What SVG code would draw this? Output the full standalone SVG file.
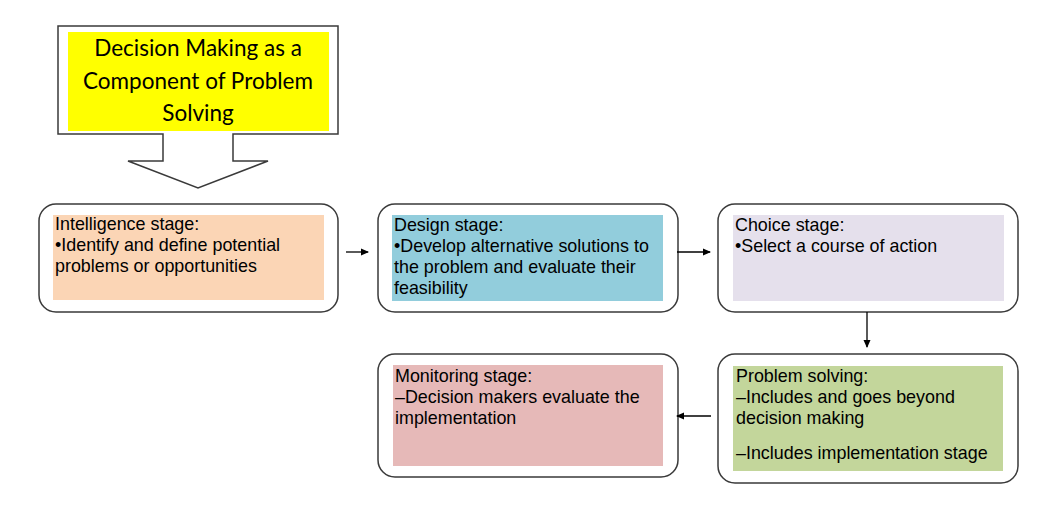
<svg xmlns="http://www.w3.org/2000/svg" width="1064" height="512" viewBox="0 0 1064 512">
<style>
.box{fill:#fff;stroke:#3a3a3a;stroke-width:1.5}
.t{font-family:"Liberation Sans",Arial,sans-serif;font-size:17.9px;fill:#000}
.h{font-family:Lato,"Open Sans",sans-serif;font-size:22.5px;fill:#000;text-anchor:middle}
.c{stroke:#000;stroke-width:1.3;fill:none;marker-end:url(#ah)}
</style>
<defs>
<marker id="ah" markerWidth="8" markerHeight="8" refX="7" refY="4" orient="auto" markerUnits="userSpaceOnUse">
<path d="M0,0.5 L8,4 L0,7.5 Z" fill="#000"/>
</marker>
</defs>
<rect width="1064" height="512" fill="#fff"/>
<g id="title">
<path d="M58,26 H338 V134 H233 V161 H268 L198,188 L128,161 H163 V134 H58 Z" fill="#fff" stroke="#3a3a3a" stroke-width="1.5"/>
<rect x="68" y="32" width="261" height="99" fill="#ffff00"/>
<text class="h" x="198" y="56">Decision Making as a</text>
<text class="h" x="198" y="89">Component of Problem</text>
<text class="h" x="198" y="121">Solving</text>
</g>
<g id="intelligence">
<rect class="box" x="39" y="204" width="299" height="108" rx="17"/>
<rect x="53" y="215" width="271" height="85" fill="#fbd5b5"/>
<text class="t" x="55" y="230">Intelligence stage:</text>
<text class="t" x="55" y="251">•Identify and define potential</text>
<text class="t" x="55" y="272">problems or opportunities</text>
</g>
<g id="design">
<rect class="box" x="378" y="204" width="300" height="108" rx="17"/>
<rect x="392" y="215" width="271" height="86" fill="#92cddc"/>
<text class="t" x="394" y="231">Design stage:</text>
<text class="t" x="394" y="252">•Develop alternative solutions to</text>
<text class="t" x="394" y="273">the problem and evaluate their</text>
<text class="t" x="394" y="294">feasibility</text>
</g>
<g id="choice">
<rect class="box" x="718" y="204" width="300" height="108" rx="17"/>
<rect x="733" y="215" width="271" height="86" fill="#e5e0ec"/>
<text class="t" x="735" y="231">Choice stage:</text>
<text class="t" x="735" y="252">•Select a course of action</text>
</g>
<g id="problem">
<rect class="box" x="718" y="354" width="300" height="129" rx="17"/>
<rect x="733" y="366" width="270" height="105" fill="#c3d69b"/>
<text class="t" x="736" y="382">Problem solving:</text>
<text class="t" x="736" y="403">–Includes and goes beyond</text>
<text class="t" x="736" y="424">decision making</text>
<text class="t" x="736" y="459">–Includes implementation stage</text>
</g>
<g id="monitoring">
<rect class="box" x="378" y="354" width="300" height="123" rx="17"/>
<rect x="393" y="365" width="270" height="101" fill="#e6b9b8"/>
<text class="t" x="395" y="382">Monitoring stage:</text>
<text class="t" x="395" y="403">–Decision makers evaluate the</text>
<text class="t" x="395" y="424">implementation</text>
</g>
<g id="connectors">
<line class="c" x1="346" y1="252" x2="368" y2="252"/>
<line class="c" x1="677" y1="252" x2="710" y2="252"/>
<line class="c" x1="867" y1="312" x2="867" y2="347"/>
<line class="c" x1="711" y1="416" x2="677" y2="416"/>
</g>
</svg>
